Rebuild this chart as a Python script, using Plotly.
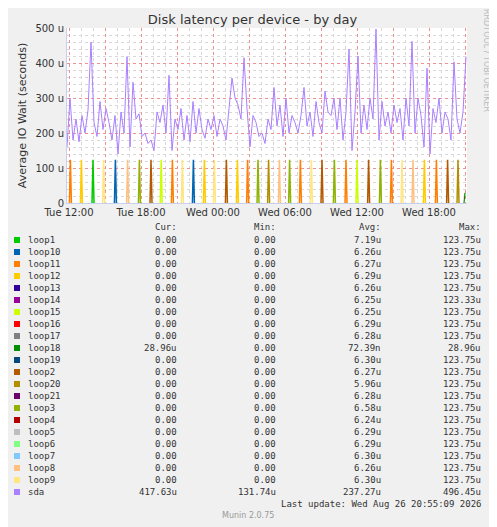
import datetime
import plotly.graph_objects as go

# sda latency, 15-minute samples starting Tue 11:50 (values in microseconds)
SDA_START = datetime.datetime(2026, 8, 25, 11, 50)
sda_values = [160, 300, 180, 240, 175, 250, 200, 265, 460, 230,
              190, 290, 210, 270, 230, 180, 250, 140, 260, 200,
              418, 160, 345, 240, 255, 190, 200, 170, 180, 150,
              260, 230, 280, 200, 365, 150, 240, 210, 270, 180,
              250, 175, 290, 200, 270, 210, 185, 240, 210, 250,
              190, 240, 220, 180, 270, 357, 300, 280, 240, 415,
              270, 160, 250, 230, 190, 200, 170, 240, 210, 330,
              220, 280, 190, 300, 200, 250, 230, 200, 250, 330,
              220, 260, 190, 290, 230, 200, 320, 260, 250, 300,
              210, 300, 180, 260, 440, 150, 260, 420, 200, 280,
              210, 300, 240, 497, 180, 290, 220, 260, 200, 280,
              230, 270, 180, 300, 220, 462, 200, 300, 250, 160,
              385, 140, 270, 230, 300, 200, 260, 240, 180, 403,
              240, 200, 260, 418]

# loop device spikes (time, device), each spike reaches 123.75u
spike_times = ["2026-08-25 12:07", "2026-08-25 13:02", "2026-08-25 14:00", "2026-08-25 14:53",
               "2026-08-25 15:52", "2026-08-25 16:53", "2026-08-25 17:52", "2026-08-25 18:50",
               "2026-08-25 19:41", "2026-08-25 20:37", "2026-08-25 21:27", "2026-08-25 22:22",
               "2026-08-25 23:17", "2026-08-26 00:07", "2026-08-26 01:07", "2026-08-26 02:02",
               "2026-08-26 02:53", "2026-08-26 03:45", "2026-08-26 04:38", "2026-08-26 05:32",
               "2026-08-26 06:23", "2026-08-26 07:17", "2026-08-26 08:12", "2026-08-26 09:05",
               "2026-08-26 10:07", "2026-08-26 11:05", "2026-08-26 12:00", "2026-08-26 12:58",
               "2026-08-26 13:57", "2026-08-26 14:52", "2026-08-26 15:45", "2026-08-26 16:40",
               "2026-08-26 17:37", "2026-08-26 18:37", "2026-08-26 19:33", "2026-08-26 20:25"]
spike_loops = ["loop11", "loop12", "loop1", "loop9", "loop10", "loop8", "loop3", "loop2",
               "loop15", "loop11", "loop9", "loop10", "loop12", "loop9", "loop2", "loop12",
               "loop11", "loop3", "loop20", "loop8", "loop3", "loop11", "loop9", "loop2",
               "loop3", "loop11", "loop15", "loop2", "loop3", "loop11", "loop9", "loop8",
               "loop12", "loop11", "loop2", "loop20"]
spike_height = 123.75
loop18_times = ["2026-08-26 20:55", "2026-08-26 21:00"]
loop18_values = [0, 28.96]

names = ["loop1", "loop10", "loop11", "loop12", "loop13", "loop14", "loop15", "loop16",
         "loop17", "loop18", "loop19", "loop2", "loop20", "loop21", "loop3", "loop4",
         "loop5", "loop6", "loop7", "loop8", "loop9", "sda"]
colors = ["#00CC00", "#0066B3", "#FF8000", "#FFCC00", "#330099", "#990099", "#CCFF00", "#FF0000",
          "#808080", "#008F00", "#00487D", "#B35A00", "#B38F00", "#6B006B", "#8FB300", "#B30000",
          "#BEBEBE", "#80FF80", "#80C9FF", "#FFC080", "#FFE680", "#AA80FF"]
cur = ["0.00"] * 9 + ["28.96u"] + ["0.00"] * 11 + ["417.63u"]
mins = ["0.00"] * 21 + ["131.74u"]
avgs = ["7.19u", "6.26u", "6.27u", "6.29u", "6.26u", "6.25u", "6.25u", "6.29u", "6.28u", "72.39n",
        "6.30u", "6.27u", "5.96u", "6.28u", "6.58u", "6.24u", "6.29u", "6.29u", "6.30u", "6.26u",
        "6.30u", "237.27u"]
maxs = ["123.75u"] * 5 + ["123.33u"] + ["123.75u"] * 3 + ["28.96u"] + ["123.75u"] * 11 + ["496.45u"]

color_of = dict(zip(names, colors))
OFF = 8                          # page body margin
W, H = 497 - OFF, 527 - OFF
L, T, R, B = 67, 28, 467, 203    # plot area in page pixels


def px(x):
    return (x - L) / (R - L)


def py(y):
    return (B - y) / (B - T)


fig = go.Figure()

# loop spikes grouped per device
step = datetime.timedelta(minutes=5)
for loop in dict.fromkeys(spike_loops):
    xs, ys = [], []
    for t, l in zip(spike_times, spike_loops):
        if l != loop:
            continue
        tt = datetime.datetime.strptime(t, "%Y-%m-%d %H:%M")
        xs += [tt - step, tt, tt + step, None]
        ys += [0, spike_height, 0, None]
    fig.add_trace(go.Scatter(x=xs, y=ys, mode="lines", line=dict(color=color_of[loop], width=1.5),
                             showlegend=False, hoverinfo="skip"))

fig.add_trace(go.Scatter(x=loop18_times, y=loop18_values, mode="lines",
                         line=dict(color=color_of["loop18"], width=1.2), showlegend=False))

sda_x = [SDA_START + datetime.timedelta(minutes=15 * i) for i in range(len(sda_values))]
fig.add_trace(go.Scatter(x=sda_x, y=sda_values, mode="lines",
                         line=dict(color="#AA80FF", width=1), showlegend=False))

# major grid every 3 h, labels every 6 h
tick_vals, tick_text = [], []
t = datetime.datetime(2026, 8, 25, 12, 0)
while t <= datetime.datetime(2026, 8, 26, 21, 0):
    tick_vals.append(t)
    tick_text.append(t.strftime("%a %H:%M") if t.hour % 6 == 0 else "")
    t += datetime.timedelta(hours=3)

fig.update_xaxes(range=[datetime.datetime(2026, 8, 25, 11, 50), datetime.datetime(2026, 8, 26, 21, 10)],
                 tickvals=tick_vals, ticktext=tick_text, showgrid=True, gridcolor="#F09090",
                 griddash="dot", gridwidth=1, ticks="", tickfont=dict(size=10, color="#333"),
                 minor=dict(dtick=3600000, showgrid=True, gridcolor="#D8D8D8", griddash="dot"),
                 showline=True, linecolor="#C8D0F0", linewidth=1, zeroline=False)
fig.update_yaxes(range=[0, 500], tickvals=[0, 100, 200, 300, 400, 500],
                 ticktext=["0", "100 u", "200 u", "300 u", "400 u", "500 u"],
                 showgrid=True, gridcolor="#F09090", griddash="dot",
                 minor=dict(dtick=20, showgrid=True, gridcolor="#D8D8D8", griddash="dot"),
                 tickfont=dict(size=10, color="#333"), ticks="", zeroline=False,
                 showline=True, linecolor="#C8D0F0",
                 title=dict(text="Average IO Wait (seconds)", font=dict(size=11, color="#333"), standoff=6))

ann = []
mono = dict(family="DejaVu Sans Mono", size=9, color="#333")
for label, x in [("Cur:", 179), ("Min:", 278), ("Avg:", 383), ("Max:", 483)]:
    ann.append(dict(x=px(x), y=py(227), text=label, xanchor="right", yanchor="middle",
                    showarrow=False, font=mono))
shapes = []
for i, n in enumerate(names):
    yy = 240 + 12 * i
    shapes.append(dict(type="rect", xref="paper", yref="paper", x0=px(14), x1=px(20),
                       y0=py(yy - 3), y1=py(yy + 3), fillcolor=colors[i], line=dict(width=0)))
    ann.append(dict(x=px(26), y=py(yy), text=n, xanchor="left", yanchor="middle", showarrow=False, font=mono))
    for val, x in [(cur[i], 179), (mins[i], 278), (avgs[i], 383), (maxs[i], 483)]:
        ann.append(dict(x=px(x), y=py(yy), text=val, xanchor="right", yanchor="middle",
                        showarrow=False, font=mono))
ann.append(dict(x=px(483), y=py(504), text="Last update: Wed Aug 26 20:55:09 2026", xanchor="right",
                yanchor="middle", showarrow=False, font=mono))
ann.append(dict(x=px(248), y=py(516), text="Munin 2.0.75", xanchor="center", yanchor="middle",
                showarrow=False, font=dict(family="DejaVu Sans", size=8, color="#999")))
ann.append(dict(x=px(487), y=py(60), text="RRDTOOL / TOBI OETIKER", textangle=90, xanchor="center",
                yanchor="middle", showarrow=False, font=dict(family="DejaVu Sans", size=8, color="#BBB")))
for a in ann:
    a["xref"] = "paper"
    a["yref"] = "paper"

fig.update_layout(width=W, height=H,
                  margin=dict(l=L - OFF, r=W - (R - OFF), t=T - OFF, b=H - (B - OFF), pad=0),
                  paper_bgcolor="#F0F0F0", plot_bgcolor="#FFFFFF",
                  font=dict(family="DejaVu Sans", color="#333"),
                  title=dict(text="Disk latency per device - by day", x=0.5, y=1 - (19 - OFF) / H,
                             xanchor="center", yanchor="middle", font=dict(size=13, color="#333")),
                  annotations=ann, shapes=shapes)
fig.write_html("out.html")
